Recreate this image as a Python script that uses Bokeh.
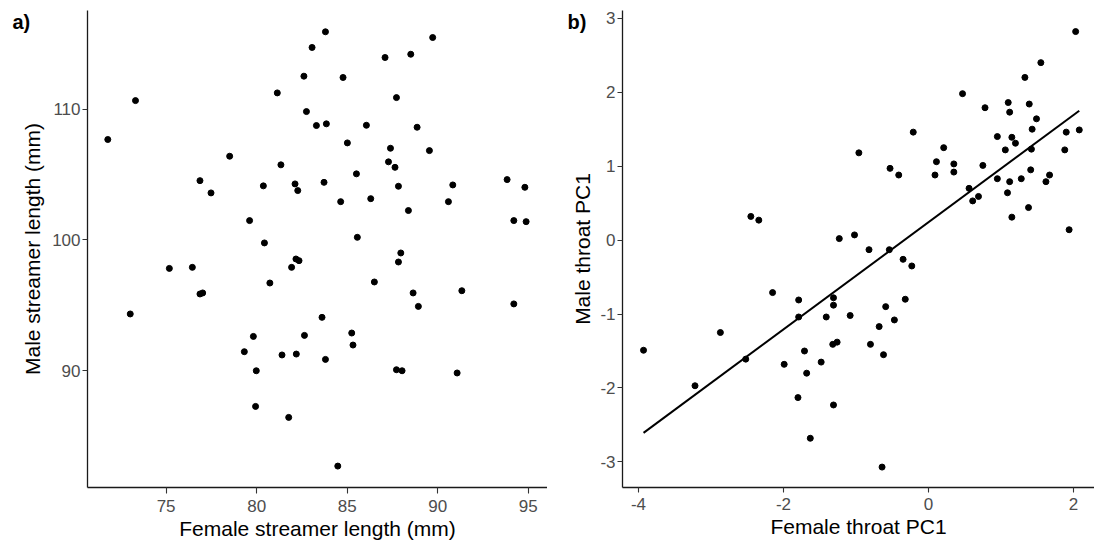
import numpy as np
from bokeh.plotting import figure
from bokeh.layouts import row
from bokeh.models import Range1d, FixedTicker, CustomJSTickFormatter, Label
from bokeh.embed import file_html
from bokeh.resources import INLINE

# ---- Panel a data: streamer lengths (mm) ----
female_streamer = [71.78, 73.31, 83.80, 83.06, 82.61, 81.14, 82.75, 83.30, 83.85, 78.51,
                   81.34, 76.87, 77.48, 80.37, 82.12, 82.27, 83.72, 79.61, 80.43, 89.72,
                   87.09, 88.51, 84.77, 87.72, 86.06, 88.86, 85.01, 87.39, 89.54, 87.28,
                   87.64, 85.51, 87.83, 90.83, 93.83, 94.81, 84.64, 86.30, 90.59, 88.38,
                   94.20, 94.88, 85.56, 87.96, 87.83, 75.18, 76.45, 82.17, 82.34, 81.93,
                   80.73, 76.87, 77.02, 73.02, 83.61, 82.64, 79.82, 79.32, 81.40, 82.19,
                   83.80, 79.98, 79.94, 81.77, 86.50, 88.64, 91.33, 88.93, 94.20, 85.25,
                   85.32, 87.72, 88.03, 91.07, 84.48]
male_streamer = [107.69, 110.67, 115.94, 114.74, 112.54, 111.26, 109.83, 108.76, 108.89, 106.41,
                 105.75, 104.54, 103.60, 104.14, 104.29, 103.78, 104.41, 101.48, 99.77, 115.50,
                 113.97, 114.22, 112.44, 110.90, 108.78, 108.63, 107.43, 107.02, 106.84, 105.98,
                 105.56, 105.06, 104.11, 104.21, 104.62, 104.03, 102.93, 103.16, 102.93, 102.25,
                 101.48, 101.40, 100.20, 99.00, 98.31, 97.82, 97.90, 98.54, 98.41, 97.90,
                 96.70, 95.86, 95.94, 94.33, 94.07, 92.69, 92.61, 91.44, 91.19, 91.26,
                 90.85, 89.98, 87.25, 86.41, 96.78, 95.94, 96.11, 94.91, 95.10, 92.87,
                 91.95, 90.06, 89.98, 89.81, 82.68]

# ---- Panel b data: throat PC1 ----
female_pc1 = [-2.45, -2.34, -1.23, 2.03, 1.55, 1.33, 0.47, 0.78, 1.10, 1.12,
              1.39, 1.49, 1.43, 2.08, 1.90, -0.21, 0.95, 1.15, 1.20, 0.21,
              -0.96, 1.06, 1.42, 1.88, 0.11, 0.35, 0.75, -0.53, -0.41, 0.09,
              0.35, 1.41, 0.95, 1.12, 1.28, 1.67, 1.62, 0.56, 1.09, 0.61,
              0.69, 1.38, 1.15, 1.94, -1.02, -0.82, -0.54, -0.35, -0.23, -2.15,
              -1.79, -1.31, -1.31, -1.79, -1.41, -2.87, -3.93, -2.52, -1.71, -1.32,
              -1.26, -1.99, -1.48, -1.68, -3.22, -1.80, -1.31, -1.63, -1.08, -0.32,
              -0.59, -0.47, -0.68, -0.80, -0.62, -0.64]
male_pc1 = [0.32, 0.27, 0.02, 2.82, 2.40, 2.20, 1.98, 1.79, 1.86, 1.73,
            1.84, 1.64, 1.50, 1.49, 1.46, 1.46, 1.40, 1.39, 1.31, 1.25,
            1.18, 1.22, 1.23, 1.22, 1.06, 1.03, 1.01, 0.97, 0.88, 0.88,
            0.92, 0.95, 0.83, 0.79, 0.83, 0.88, 0.79, 0.70, 0.64, 0.53,
            0.59, 0.44, 0.31, 0.14, 0.07, -0.13, -0.13, -0.26, -0.35, -0.71,
            -0.81, -0.78, -0.88, -1.04, -1.04, -1.25, -1.49, -1.61, -1.50, -1.41,
            -1.38, -1.68, -1.65, -1.80, -1.97, -2.13, -2.23, -2.68, -1.02, -0.80,
            -0.90, -1.08, -1.17, -1.41, -1.55, -3.07]

a_xticks = [75, 80, 85, 90, 95]
a_yticks = [90, 100, 110]
b_xticks = [-4, -2, 0, 2]
b_yticks = [-3, -2, -1, 0, 1, 2, 3]
panel_tags = ["a)", "b)"]

FONT = "Liberation Sans"
H = 547


def style(p, xticks, yticks, xlabel, ylabel, x_tick_out, x_standoff, y_title_standoff):
    p.xgrid.visible = False
    p.ygrid.visible = False
    p.outline_line_color = None
    p.background_fill_color = "white"
    p.border_fill_color = "white"
    p.xaxis.ticker = FixedTicker(ticks=xticks)
    p.yaxis.ticker = FixedTicker(ticks=yticks)
    fmt = CustomJSTickFormatter(code="return tick.toString();")
    p.xaxis.formatter = fmt
    p.yaxis.formatter = fmt
    p.xaxis.axis_label = xlabel
    p.yaxis.axis_label = ylabel
    for ax in (p.xaxis[0], p.yaxis[0]):
        ax.axis_line_color = "#1a1a1a"
        ax.axis_line_width = 1.3
        ax.major_tick_line_color = "#333333"
        ax.major_tick_line_width = 1.1
        ax.major_tick_in = 0
        ax.minor_tick_out = 0
        ax.minor_tick_in = 0
        ax.major_label_text_font = FONT
        ax.major_label_text_font_size = "17px"
        ax.major_label_text_color = "#4D4D4D"
        ax.axis_label_text_font = FONT
        ax.axis_label_text_font_size = "21px"
        ax.axis_label_text_font_style = "normal"
        ax.axis_label_text_color = "black"
    p.xaxis.major_tick_out = x_tick_out
    p.yaxis.major_tick_out = 5
    p.xaxis.major_label_standoff = x_standoff
    p.yaxis.major_label_standoff = 2
    p.xaxis.axis_label_standoff = 2
    p.yaxis.axis_label_standoff = y_title_standoff


def add_tag(p, tag, x_off, y_top):
    lab = Label(x=x_off, y=y_top, x_units="screen", y_units="data", text=tag,
                text_font=FONT, text_font_size="20px", text_font_style="bold",
                text_baseline="top", text_align="left", text_color="black")
    p.add_layout(lab, "left")


# ---- Panel a ----
pa = figure(width=547, height=H, output_backend="svg", toolbar_location=None,
            x_range=Range1d(70.66, 96.06), y_range=Range1d(81.04, 117.57),
            min_border_left=87, min_border_right=0, min_border_top=10, min_border_bottom=60)
style(pa, a_xticks, a_yticks, "Female streamer length (mm)", "Male streamer length (mm)", 6, 6, 5)
pa.scatter(female_streamer, male_streamer, size=6, color="black")
add_tag(pa, panel_tags[0], 12, 117.57)

# ---- Panel b ----
pb = figure(width=547, height=H, output_backend="svg", toolbar_location=None,
            x_range=Range1d(-4.22, 2.29), y_range=Range1d(-3.346, 3.105),
            min_border_left=75, min_border_right=0, min_border_top=10, min_border_bottom=58)
style(pb, b_xticks, b_yticks, "Female throat PC1", "Male throat PC1", 5, 5, 3)
slope, intercept = np.polyfit(female_pc1, male_pc1, 1)
fx = np.array([min(female_pc1), max(female_pc1)])
pb.line(fx, slope * fx + intercept, line_color="black", line_width=2)
pb.scatter(female_pc1, male_pc1, size=6, color="black")
add_tag(pb, panel_tags[1], 18, 3.105)

layout = row(pa, pb)
open("out.html", "w").write(file_html(layout, INLINE))
